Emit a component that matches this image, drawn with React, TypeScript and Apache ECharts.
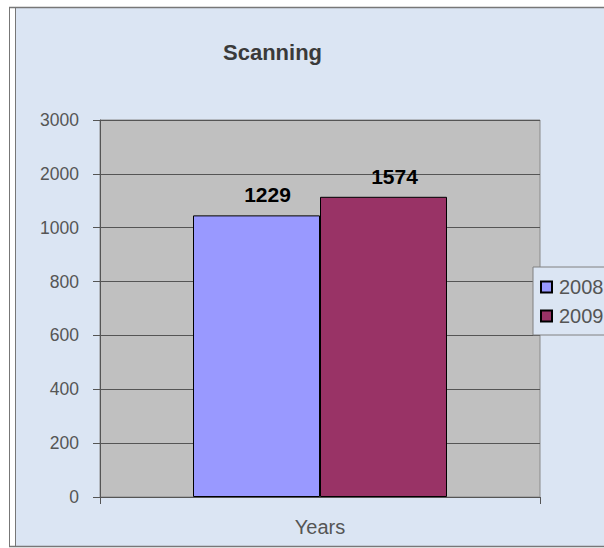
import React, { useEffect, useRef } from "react";
import * as echarts from "echarts";

const categories = ["Years"];
const seriesNames = ["2008", "2009"];
const seriesValues = [1229, 1574];
const tickLabels = [0, 200, 400, 600, 800, 1000, 2000, 3000];
const seriesColors = ["#9999ff", "#993366"];

// piecewise position of a value on the evenly spaced (non-linear) tick scale
function toAxis(v: number): number {
  for (let i = 0; i < tickLabels.length - 1; i++) {
    const a = tickLabels[i];
    const b = tickLabels[i + 1];
    if (v >= a && v <= b) return i + (v - a) / (b - a);
  }
  return tickLabels.length - 1;
}

export default function App() {
  const ref = useRef<HTMLDivElement>(null);
  useEffect(() => {
    if (!ref.current) return;
    const chart = echarts.init(ref.current, undefined, { renderer: "svg" });
    const font = "'Liberation Sans', Arial, sans-serif";
    const lineCol = "#777777";
    chart.setOption({
      animation: false,
      backgroundColor: "#ffffff",
      textStyle: { fontFamily: font },
      graphic: [
        { type: "rect", z: -10, silent: true, shape: { x: 16, y: 8, width: 600, height: 538 }, style: { fill: "#dbe5f3" } },
        { type: "line", z: -9, silent: true, shape: { x1: 9.5, y1: 7, x2: 9.5, y2: 547 }, style: { stroke: lineCol, lineWidth: 1 } },
        { type: "line", z: -9, silent: true, shape: { x1: 15.5, y1: 7, x2: 15.5, y2: 547 }, style: { stroke: lineCol, lineWidth: 1 } },
        { type: "line", z: -9, silent: true, shape: { x1: 9, y1: 7.5, x2: 604, y2: 7.5 }, style: { stroke: lineCol, lineWidth: 1.3 } },
        { type: "line", z: -9, silent: true, shape: { x1: 9, y1: 546.5, x2: 604, y2: 546.5 }, style: { stroke: lineCol, lineWidth: 1.3 } },
      ],
      title: {
        text: "Scanning",
        left: 218,
        top: 36,
        textStyle: { fontSize: 22, fontWeight: "bold", color: "#3a3a3a", fontFamily: font },
      },
      legend: {
        orient: "vertical",
        left: 533,
        top: 267,
        backgroundColor: "#dbe5f3",
        borderColor: "#808080",
        borderWidth: 1,
        borderRadius: 0,
        padding: [10, 40, 9, 7],
        itemWidth: 11,
        itemHeight: 11,
        itemGap: 9,
        icon: "rect",
        data: seriesNames,
        textStyle: { fontSize: 20, color: "#555555", fontFamily: font, padding: [0, 0, 0, 2] },
      },
      grid: {
        left: 100,
        top: 120,
        width: 440,
        height: 377,
        show: true,
        backgroundColor: "#c0c0c0",
        borderColor: "#8a8a8a",
        borderWidth: 1,
      },
      xAxis: {
        type: "category",
        data: categories,
        axisLine: { lineStyle: { color: "#555555", width: 1 } },
        axisTick: { show: true, length: 7, lineStyle: { color: "#555555" } },
        axisLabel: { fontSize: 20, color: "#555555", margin: 20, fontFamily: font },
      },
      yAxis: {
        type: "value",
        min: 0,
        max: tickLabels.length - 1,
        interval: 1,
        axisLine: { show: true, lineStyle: { color: "#555555", width: 1 } },
        axisTick: { show: true, length: 7, lineStyle: { color: "#555555" } },
        splitLine: { show: true, lineStyle: { color: "#555555", width: 1 } },
        axisLabel: {
          fontSize: 17.5,
          color: "#555555",
          margin: 21,
          fontFamily: font,
          formatter: (v: number) => String(tickLabels[Math.round(v)] ?? ""),
        },
      },
      series: seriesNames.map((name, i) => ({
        name,
        type: "bar",
        barWidth: 127,
        barGap: "0%",
        data: [toAxis(seriesValues[i])],
        itemStyle: { color: seriesColors[i], borderColor: "#000000", borderWidth: 1 },
        label: {
          show: true,
          position: "top",
          distance: 10,
          offset: [11, 0],
          fontSize: 21,
          fontWeight: "bold",
          color: "#000000",
          fontFamily: font,
          formatter: () => String(seriesValues[i]),
        },
      })),
    });
    return () => chart.dispose();
  }, []);
  return (
    <div
      ref={ref}
      style={{ position: "fixed", left: 0, top: 0, width: 604, height: 548 }}
    />
  );
}
